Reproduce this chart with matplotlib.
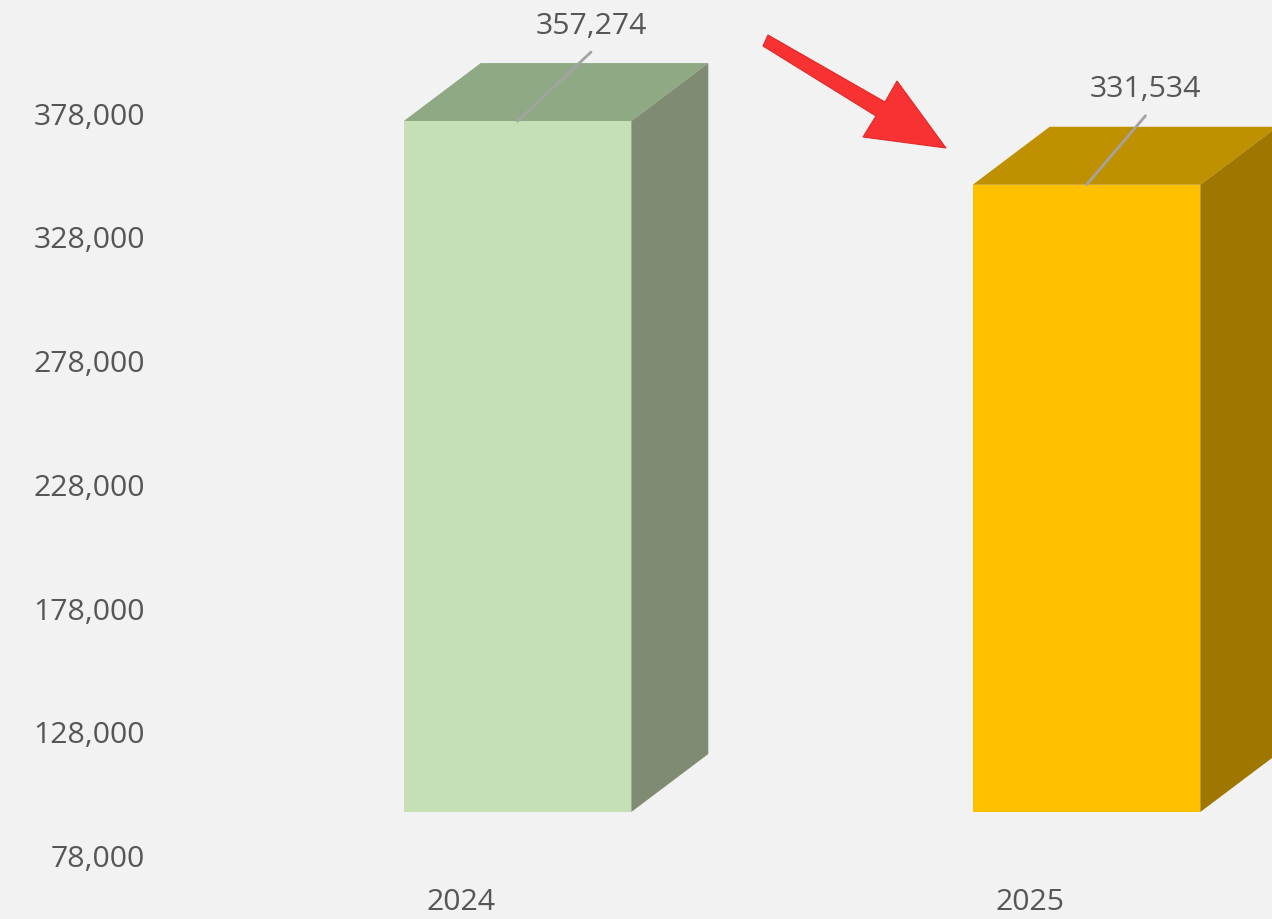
import matplotlib
matplotlib.use("Agg")
import matplotlib.pyplot as plt
from matplotlib.patches import Polygon
from matplotlib.ticker import FuncFormatter
import numpy as np

# data
years = ["2024", "2025"]
values = [357274, 331534]
y_ticks = [78000, 128000, 178000, 228000, 278000, 328000, 378000]

front_colors = ["#c5e0b4", "#ffc000"]
top_colors = ["#8fa984", "#bf9000"]
side_colors = ["#7f8b72", "#9e7600"]

W, H = 1272, 919
BG = "#f2f2f2"
TXT = "#565656"
FONT = "Open Sans"
FS = 21.8

plt.rcParams["font.family"] = [FONT, "DejaVu Sans"]

fig = plt.figure(figsize=(W / 100, H / 100), dpi=100, facecolor=BG)


def rect_px(left, top, right, bottom):
    """axes rect from pixel box (top-origin)"""
    return [left / W, 1 - bottom / H, (right - left) / W, (bottom - top) / H]


# scale: 50,000 per ~123.7 px, front face base (78,000) at pixel row 812
px_per_unit = 123.7 / 50000
base = y_ticks[0]
ax_top, ax_bot = 0, 860
ylim = (base - (ax_bot - 812) / px_per_unit, base + (812 - ax_top) / px_per_unit)

# x: 569 px between categories, first front-face centre at 517.5 px
px_per_cat = 569
xlim = ((170 - 517.5) / px_per_cat, (W - 517.5) / px_per_cat)

ax = fig.add_axes(rect_px(170, ax_top, W, ax_bot))
ax.set_facecolor("none")
ax.set_xlim(xlim)
ax.set_ylim(ylim)

x = np.arange(len(years))
bar_w = 0.4
depth_x = 77 / px_per_cat
depth_y = 58 / px_per_unit

bars = ax.bar(x, [v - base for v in values], bottom=base, width=bar_w,
              color=front_colors, linewidth=0, zorder=3)

for i, b in enumerate(bars):
    x0 = b.get_x()
    x1 = x0 + b.get_width()
    top = b.get_y() + b.get_height()
    bot = b.get_y()
    top_face = Polygon([(x0, top), (x1, top), (x1 + depth_x, top + depth_y),
                        (x0 + depth_x, top + depth_y)],
                       closed=True, facecolor=top_colors[i], edgecolor="none", zorder=2)
    side_face = Polygon([(x1, bot), (x1 + depth_x, bot + depth_y),
                         (x1 + depth_x, top + depth_y), (x1, top)],
                        closed=True, facecolor=side_colors[i], edgecolor="none", zorder=2)
    ax.add_patch(top_face)
    ax.add_patch(side_face)

# data labels with leader lines
label_dx = [73.5, 59]
for i, v in enumerate(values):
    ax.annotate("", xy=(x[i], v), xytext=(label_dx[i], 69), textcoords="offset pixels",
                arrowprops=dict(arrowstyle="-", color="#a3a3a3", lw=2.0,
                                shrinkA=0, shrinkB=0), zorder=5)
    ax.annotate(f"{v:,}", xy=(x[i], v), xytext=(label_dx[i], 95),
                textcoords="offset pixels", ha="center", va="center",
                fontsize=FS, color=TXT, zorder=5)

# category labels
ax.set_xticks(x - 56.5 / px_per_cat, years)
ax.tick_params(axis="x", length=0, pad=20, labelsize=FS, labelcolor=TXT)
ax.set_yticks([])
for s in ax.spines.values():
    s.set_visible(False)

# value axis labels (drawn on the back wall, a bit lower than the front faces)
shift = 44
ax2 = fig.add_axes(rect_px(170, ax_top + shift, W, ax_bot + shift))
ax2.patch.set_visible(False)
ax2.set_ylim(ylim)
ax2.set_xticks([])
ax2.set_yticks(y_ticks)
ax2.yaxis.set_major_formatter(FuncFormatter(lambda v, p: f"{int(v):,}"))
ax2.tick_params(axis="y", length=0, pad=18, labelsize=FS, labelcolor=TXT)
for s in ax2.spines.values():
    s.set_visible(False)

# red arrow pointing from 2024 down to 2025
arrow_px = [(768, 35), (885, 102), (897, 81), (946, 148), (863, 137), (876, 116), (763, 46)]
arrow = Polygon([(px / W, 1 - py / H) for px, py in arrow_px], closed=True,
                transform=fig.transFigure, facecolor="#f83232", edgecolor="#e02a2a",
                linewidth=0.8, zorder=10)
fig.add_artist(arrow)

fig.savefig("out.png", dpi=100, facecolor=BG)
